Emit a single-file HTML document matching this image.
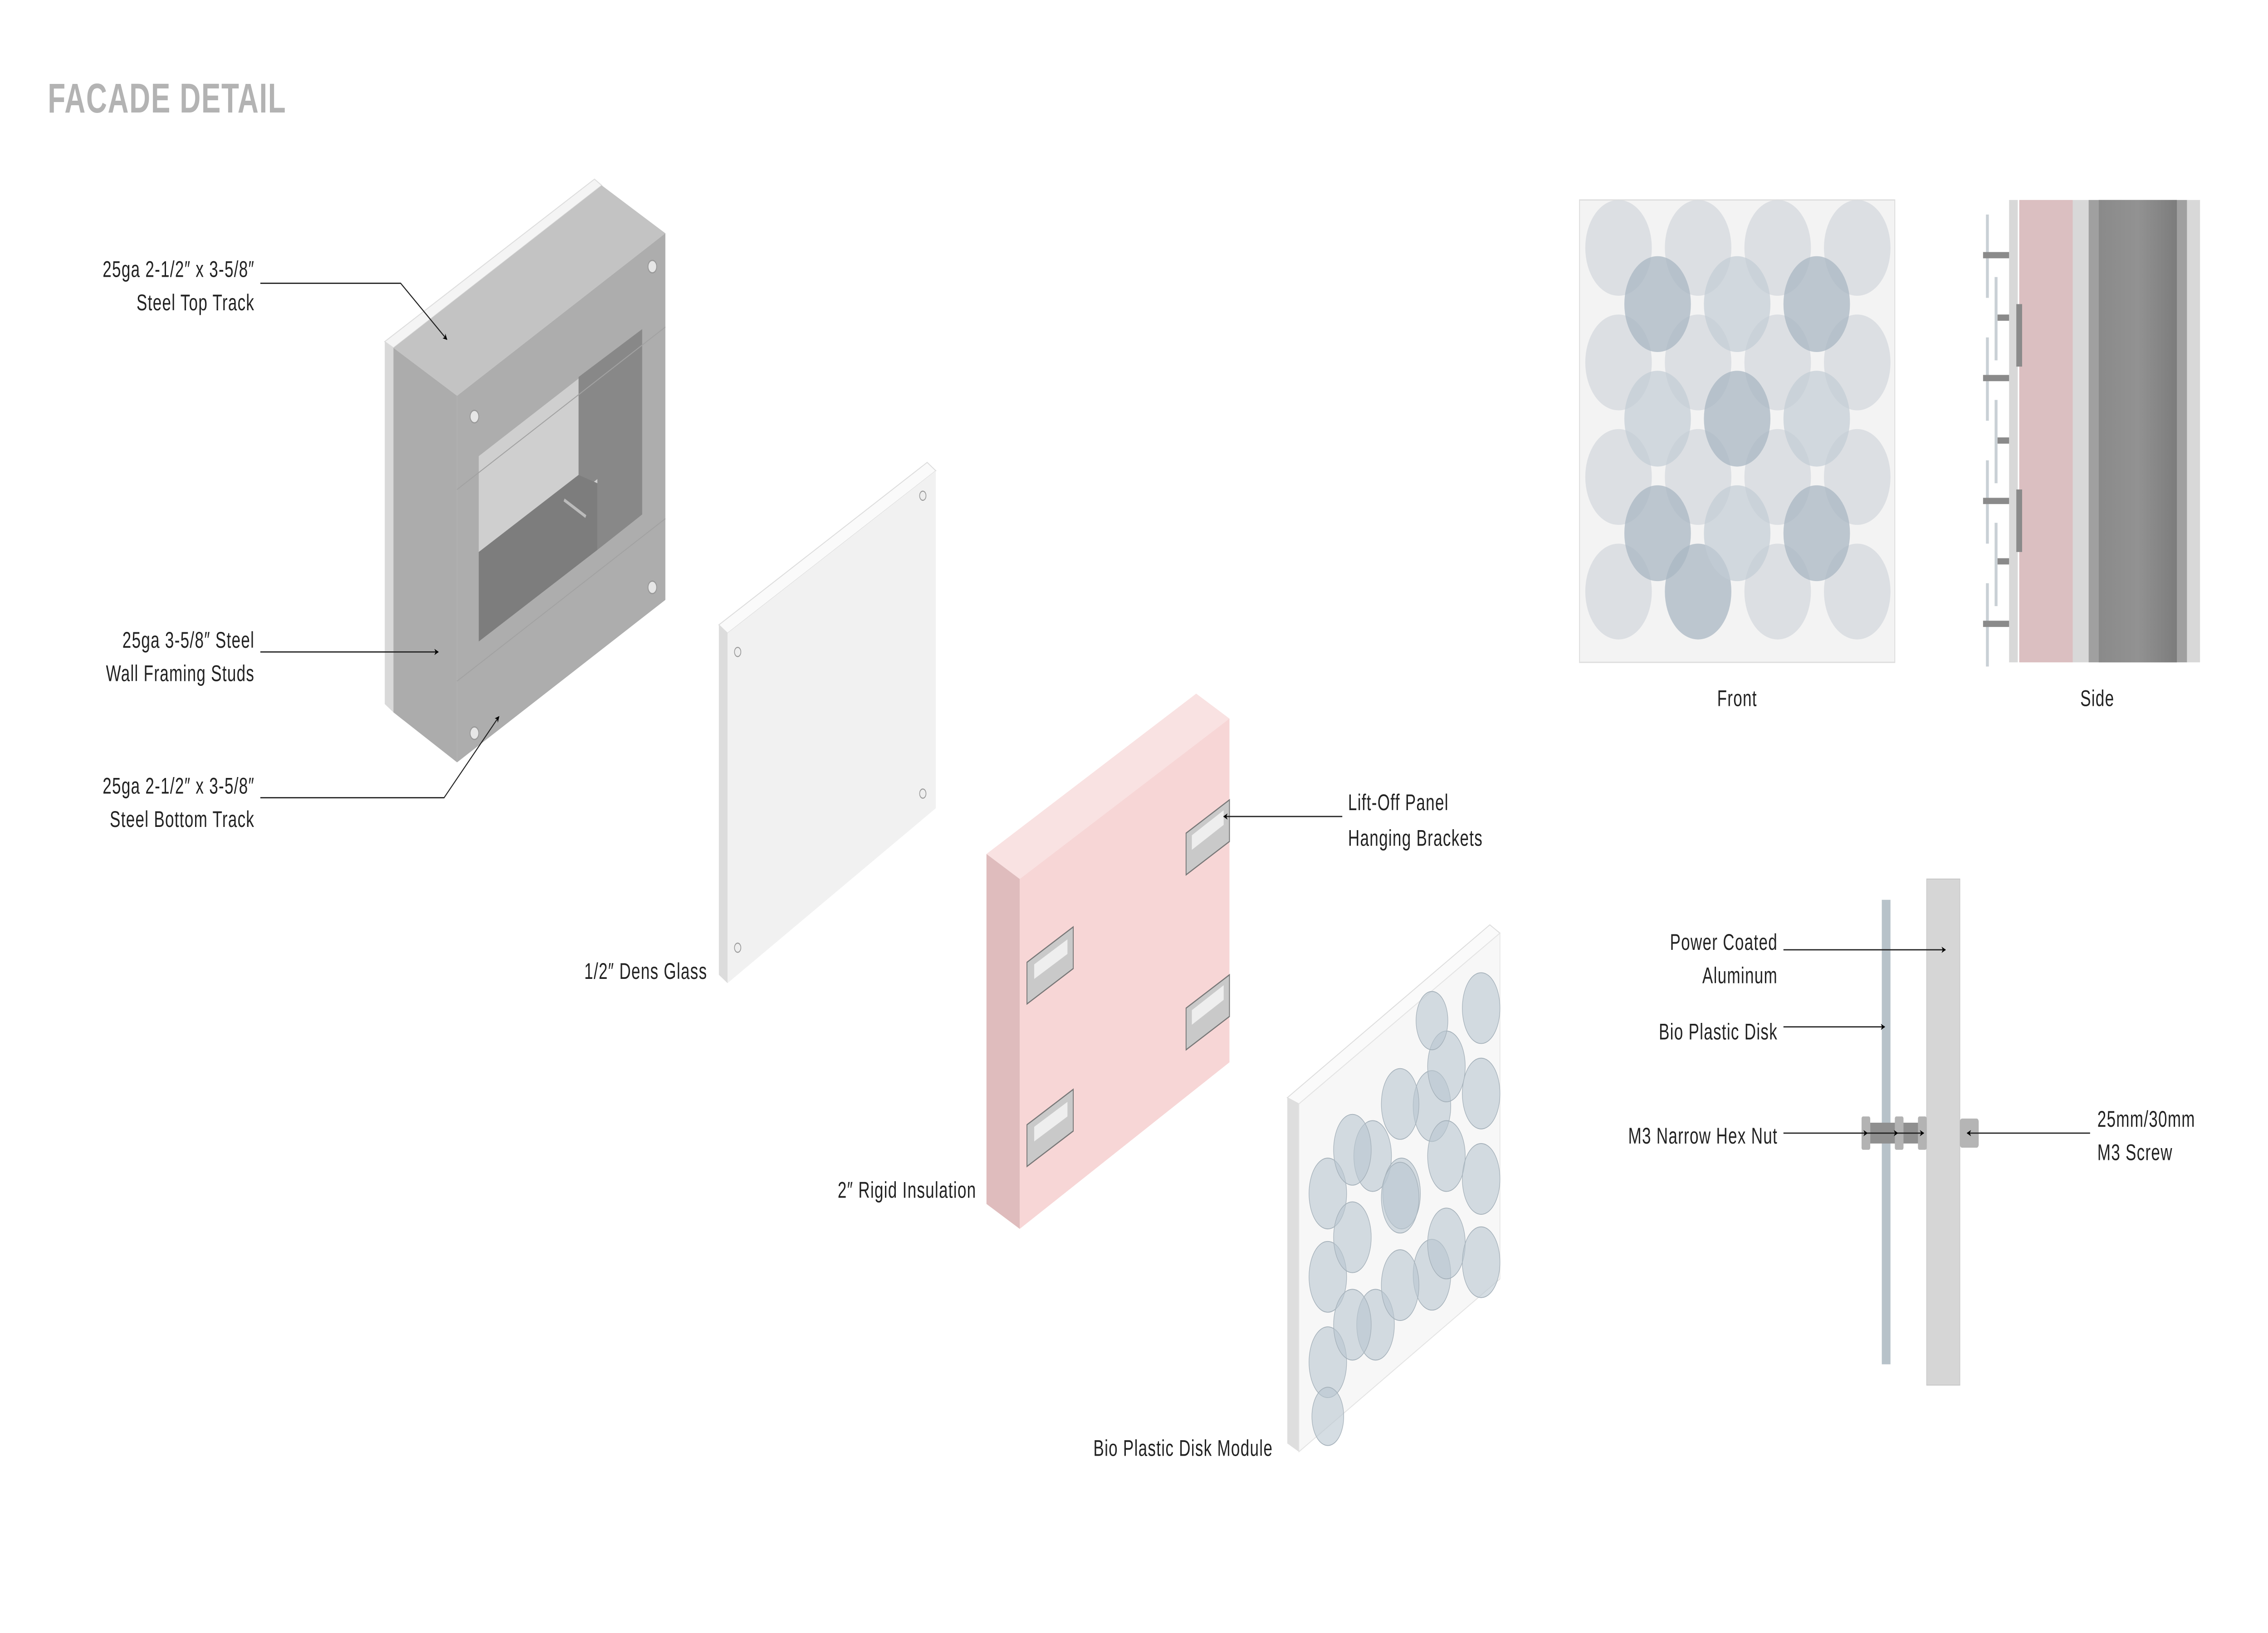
<!DOCTYPE html>
<html><head><meta charset="utf-8"><style>
html,body{margin:0;padding:0;background:#fff;width:100%;height:100%;overflow:hidden;}
svg{display:block;width:100vw;height:100vh;}
text{font-family:"Liberation Sans",sans-serif;fill:#222;font-size:11px;letter-spacing:0.4px;}
</style></head><body>
<svg viewBox="0 0 1568 784" preserveAspectRatio="none" xmlns="http://www.w3.org/2000/svg">
<defs>
<marker id="ar" viewBox="0 0 10 10" refX="9" refY="5" markerWidth="5" markerHeight="5" orient="auto-start-reverse"><path d="M0,0 L10,5 L0,10 L3,5 z" fill="#000"/></marker>
<linearGradient id="gv" x1="0" x2="1"><stop offset="0" stop-color="#8a8a8a"/><stop offset=".5" stop-color="#929292"/><stop offset="1" stop-color="#7c7c7c"/></linearGradient>
</defs>
<rect width="1568" height="784" fill="#fff"/>
<text x="33" y="54" style="font-size:20px;font-weight:bold;fill:#b3b3b3;letter-spacing:0.5px">FACADE DETAIL</text>

<!-- Steel frame -->
<polygon points="266,164 411,86 416,89 272,167" fill="#f4f4f4" stroke="#ddd" stroke-width="0.5"/>
<polygon points="266,164 272,167 272,342 266,338" fill="#d9d9d9"/>
<polygon points="272,167 416,89 460,112 316,190" fill="#c3c3c3"/>
<polygon points="272,167 316,190 316,366 272,342" fill="#acacac"/>
<polygon points="316,190 460,112 460,288 316,366" fill="#adadad"/>
<polygon points="331,219 444,158 444,247 331,308" fill="#cfcfcf"/>
<polygon points="400,181 444,158 444,247 413,264 413,230 400,237" fill="#888"/>
<polygon points="331,265 400,228 413,232 413,264 331,308" fill="#7d7d7d"/>
<line x1="390" y1="240" x2="405" y2="248" stroke="#bbb" stroke-width="1.5"/>
<line x1="316" y1="235" x2="460" y2="157" stroke="#a2a2a2" stroke-width="0.5"/>
<line x1="316" y1="327" x2="460" y2="249" stroke="#a2a2a2" stroke-width="0.5"/>
<g fill="#e6e6e6" stroke="#999" stroke-width="0.6">
<circle cx="328" cy="200" r="3"/><circle cx="451" cy="128" r="3"/><circle cx="451" cy="282" r="3"/><circle cx="328" cy="352" r="3"/></g>

<text x="176" y="133" text-anchor="end">25ga  2-1/2″ x 3-5/8″</text>
<text x="176" y="149" text-anchor="end">Steel Top Track</text>
<polyline points="180,136 277,136 309,163" fill="none" stroke="#222" stroke-width="0.6" marker-end="url(#ar)"/>
<text x="176" y="311" text-anchor="end">25ga 3-5/8″ Steel</text>
<text x="176" y="327" text-anchor="end">Wall Framing Studs</text>
<line x1="180" y1="313" x2="303" y2="313" stroke="#222" stroke-width="0.6" marker-end="url(#ar)"/>
<text x="176" y="381" text-anchor="end">25ga  2-1/2″ x 3-5/8″</text>
<text x="176" y="397" text-anchor="end">Steel Bottom Track</text>
<polyline points="180,383 307,383 345,344" fill="none" stroke="#222" stroke-width="0.6" marker-end="url(#ar)"/>

<!-- Dens glass -->
<polygon points="497,300 641,222 647,226 503,304" fill="#fafafa" stroke="#ddd" stroke-width="0.5"/>
<polygon points="497,300 503,304 503,472 497,468" fill="#dcdcdc"/>
<polygon points="503,304 647,226 647,388 503,472" fill="#f1f1f1"/>
<g fill="#eee" stroke="#999" stroke-width="0.5">
<circle cx="510" cy="313" r="2.2"/><circle cx="638" cy="238" r="2.2"/><circle cx="638" cy="381" r="2.2"/><circle cx="510" cy="455" r="2.2"/></g>
<text x="489" y="470" text-anchor="end">1/2″ Dens Glass</text>

<!-- Insulation -->
<polygon points="682,410 827,333 850,345 705,422" fill="#f9e2e2"/>
<polygon points="682,410 705,422 705,590 682,578" fill="#dfbcbd"/>
<polygon points="705,422 850,345 850,510 705,590" fill="#f7d6d6"/>
<g fill="#c9c9c9" stroke="#777" stroke-width="0.6">
<polygon points="710,462 742,445 742,465 710,482"/>
<polygon points="710,540 742,523 742,543 710,560"/>
<polygon points="820,400 850,384 850,404 820,420"/>
<polygon points="820,484 850,468 850,488 820,504"/>
</g>
<g fill="#eee"><polygon points="715,463 738,451 738,458 715,470"/><polygon points="715,541 738,529 738,536 715,548"/><polygon points="824,401 846,389 846,396 824,408"/><polygon points="824,485 846,473 846,480 824,492"/></g>
<text x="675" y="575" text-anchor="end">2″ Rigid Insulation</text>
<text x="932" y="389">Lift-Off Panel</text>
<text x="932" y="406">Hanging Brackets</text>
<line x1="928" y1="392" x2="846" y2="392" stroke="#222" stroke-width="0.6" marker-end="url(#ar)"/>

<!-- Disk module -->
<polygon points="890,527 1030,444 1037,448 898,530" fill="#fafafa" stroke="#ddd" stroke-width="0.5"/>
<polygon points="890,527 898,530 898,697 890,693" fill="#dedede"/>
<polygon points="898,530 1037,448 1037,614 898,697" fill="#f7f7f7" stroke="#e4e4e4" stroke-width="0.5"/>
<g fill="#b9c6d0" fill-opacity="0.6" stroke="#a5b1ba" stroke-width="0.4">
<ellipse cx="918" cy="573" rx="13" ry="17"/><ellipse cx="949" cy="555" rx="13" ry="17"/><ellipse cx="990" cy="531" rx="13" ry="17"/><ellipse cx="1024" cy="484" rx="13" ry="17"/>
<ellipse cx="935" cy="552" rx="13" ry="17"/><ellipse cx="968" cy="530" rx="13" ry="17"/><ellipse cx="1000" cy="512" rx="13" ry="17"/>
<ellipse cx="918" cy="613" rx="13" ry="17"/><ellipse cx="969" cy="573" rx="13" ry="17"/><ellipse cx="1024" cy="525" rx="13" ry="17"/>
<ellipse cx="935" cy="594" rx="13" ry="17"/><ellipse cx="968" cy="575" rx="13" ry="17"/><ellipse cx="1000" cy="555" rx="13" ry="17"/>
<ellipse cx="918" cy="654" rx="13" ry="17"/><ellipse cx="951" cy="636" rx="13" ry="17"/><ellipse cx="990" cy="612" rx="13" ry="17"/><ellipse cx="1024" cy="566" rx="13" ry="17"/>
<ellipse cx="935" cy="636" rx="13" ry="17"/><ellipse cx="968" cy="617" rx="13" ry="17"/><ellipse cx="1000" cy="597" rx="13" ry="17"/>
<ellipse cx="918" cy="680" rx="11" ry="14"/><ellipse cx="1024" cy="606" rx="13" ry="17"/><ellipse cx="990" cy="490" rx="11" ry="14"/>
</g>
<text x="880" y="699" text-anchor="end">Bio Plastic Disk Module</text>

<!-- Front view -->
<rect x="1092" y="96" width="218" height="222" fill="#f3f3f3" stroke="#ddd" stroke-width="0.6"/>
<g fill="#d7dbdf" fill-opacity="0.85">
<circle cx="1119" cy="119" r="23"/><circle cx="1174" cy="119" r="23"/><circle cx="1229" cy="119" r="23"/><circle cx="1284" cy="119" r="23"/>
<circle cx="1119" cy="174" r="23"/><circle cx="1174" cy="174" r="23"/><circle cx="1229" cy="174" r="23"/><circle cx="1284" cy="174" r="23"/>
<circle cx="1119" cy="229" r="23"/><circle cx="1174" cy="229" r="23"/><circle cx="1229" cy="229" r="23"/><circle cx="1284" cy="229" r="23"/>
<circle cx="1119" cy="284" r="23"/><circle cx="1229" cy="284" r="23"/><circle cx="1284" cy="284" r="23"/></g>
<g fill="#a9b7c3" fill-opacity="0.75">
<circle cx="1146" cy="146" r="23"/><circle cx="1256" cy="146" r="23"/><circle cx="1201" cy="201" r="23"/><circle cx="1146" cy="256" r="23"/><circle cx="1256" cy="256" r="23"/><circle cx="1174" cy="284" r="23"/></g>
<g fill="#c2ccd4" fill-opacity="0.7">
<circle cx="1201" cy="146" r="23"/><circle cx="1146" cy="201" r="23"/><circle cx="1256" cy="201" r="23"/><circle cx="1201" cy="256" r="23"/></g>
<text x="1201" y="339" text-anchor="middle">Front</text>

<!-- Side view -->
<g>
<rect x="1373" y="103" width="2" height="40" fill="#c9d0d5"/><rect x="1373" y="162" width="2" height="40" fill="#c9d0d5"/><rect x="1373" y="221" width="2" height="40" fill="#c9d0d5"/><rect x="1373" y="280" width="2" height="40" fill="#c9d0d5"/>
<rect x="1379" y="133" width="2" height="40" fill="#c9d0d5"/><rect x="1379" y="192" width="2" height="40" fill="#c9d0d5"/><rect x="1379" y="251" width="2" height="40" fill="#c9d0d5"/>
<rect x="1389" y="96" width="6" height="222" fill="#d8d8d8"/>
<rect x="1396" y="96" width="37" height="222" fill="#dbbfc1"/>
<rect x="1433" y="96" width="11" height="222" fill="#d8d8d8"/>
<rect x="1444" y="96" width="68" height="222" fill="#a0a0a0"/>
<rect x="1451" y="96" width="54" height="222" fill="url(#gv)"/>
<rect x="1512" y="96" width="9" height="222" fill="#d8d8d8"/>
<g fill="#8a8a8a">
<rect x="1394" y="146" width="4" height="30"/><rect x="1394" y="235" width="4" height="30"/>
<rect x="1371" y="121" width="18" height="3"/><rect x="1371" y="180" width="18" height="3"/><rect x="1371" y="239" width="18" height="3"/><rect x="1371" y="298" width="18" height="3"/>
<rect x="1381" y="151" width="8" height="3"/><rect x="1381" y="210" width="8" height="3"/><rect x="1381" y="268" width="8" height="3"/>
</g></g>
<text x="1450" y="339" text-anchor="middle">Side</text>

<!-- Section detail -->
<rect x="1301" y="432" width="6" height="223" fill="#b7c2c9"/>
<rect x="1332" y="422" width="23" height="243" fill="#d6d6d6" stroke="#c4c4c4" stroke-width="0.4"/>
<rect x="1293" y="539" width="39" height="10" fill="#8f8f8f"/>
<g fill="#b3b3b3"><rect x="1287" y="536" width="6" height="16" rx="1"/><rect x="1310" y="536" width="6" height="16" rx="1"/><rect x="1326" y="536" width="6" height="16" rx="1"/></g>
<rect x="1355" y="537" width="13" height="14" rx="1.5" fill="#b5b5b5"/>
<text x="1229" y="456" text-anchor="end">Power Coated</text>
<text x="1229" y="472" text-anchor="end">Aluminum</text>
<line x1="1233" y1="456" x2="1345" y2="456" stroke="#222" stroke-width="0.6" marker-end="url(#ar)"/>
<text x="1229" y="499" text-anchor="end">Bio Plastic Disk</text>
<line x1="1233" y1="493" x2="1303" y2="493" stroke="#222" stroke-width="0.6" marker-end="url(#ar)"/>
<text x="1229" y="549" text-anchor="end">M3 Narrow Hex Nut</text>
<line x1="1233" y1="544" x2="1291" y2="544" stroke="#222" stroke-width="0.6" marker-end="url(#ar)"/>
<line x1="1291" y1="544" x2="1312" y2="544" stroke="#222" stroke-width="0.6" marker-end="url(#ar)"/>
<line x1="1312" y1="544" x2="1330" y2="544" stroke="#222" stroke-width="0.6" marker-end="url(#ar)"/>
<text x="1450" y="541">25mm/30mm</text>
<text x="1450" y="557">M3 Screw</text>
<line x1="1445" y1="544" x2="1360" y2="544" stroke="#222" stroke-width="0.6" marker-end="url(#ar)"/>
</svg>
</body></html>
